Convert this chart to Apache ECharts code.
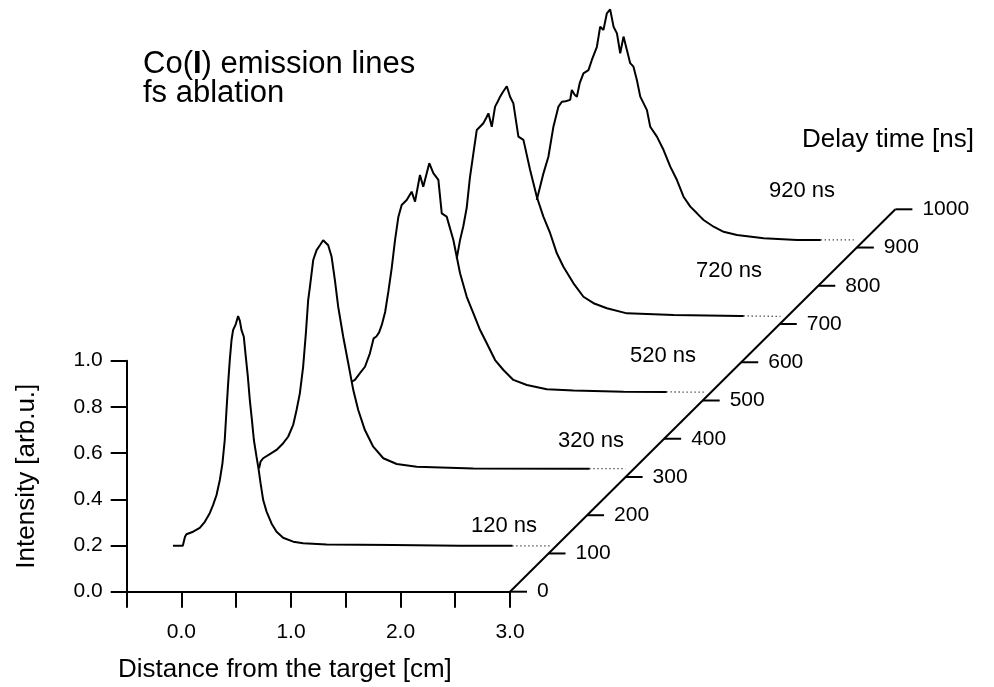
<!DOCTYPE html>
<html>
<head>
<meta charset="utf-8">
<title>Co(I) emission lines - fs ablation</title>
<script src="https://cdn.jsdelivr.net/npm/echarts@6.0.0/dist/echarts.min.js"></script>
<style>
  html, body { margin: 0; padding: 0; background: #fff; }
  #chart { width: 994px; height: 687px; }
</style>
</head>
<body>
<div id="chart"></div>
<script>
// delay times of the measured profiles [ns]
var delays = [120, 320, 520, 720, 920];

// spatial profiles, [distance from target (cm), normalised intensity]
var prof120 = [[-0.50,0.0],[-0.41,0.0],[-0.39,0.039],[-0.377,0.05],[-0.316,0.061],[-0.255,0.078],[-0.209,0.104],
  [-0.164,0.141],[-0.133,0.177],[-0.102,0.22],[-0.072,0.285],[-0.048,0.357],[-0.027,0.458],[-0.011,0.588],
  [0.004,0.703],[0.019,0.804],[0.035,0.891],[0.049,0.934],[0.074,0.96],[0.095,0.995],[0.111,0.974],
  [0.126,0.934],[0.147,0.905],[0.165,0.819],[0.184,0.732],[0.202,0.631],[0.221,0.545],[0.239,0.458],
  [0.263,0.386],[0.281,0.335],[0.300,0.271],[0.324,0.198],[0.355,0.148],[0.40,0.097],[0.446,0.061],
  [0.506,0.035],[0.598,0.018],[0.689,0.011],[0.903,0.006],[1.512,0.003],[2.12,0.0],[2.6,0.0],[2.95,0.0]];
var prof320 = [[-0.417,0.004],[-0.404,0.033],[-0.38,0.048],[-0.319,0.066],[-0.258,0.084],[-0.197,0.113],
  [-0.152,0.141],[-0.106,0.192],[-0.075,0.257],[-0.045,0.329],[-0.015,0.444],[0.01,0.589],[0.031,0.733],
  [0.047,0.79],[0.077,0.906],[0.108,0.949],[0.138,0.97],[0.168,0.992],[0.184,0.998],[0.214,0.97],
  [0.245,0.92],[0.275,0.819],[0.305,0.704],[0.351,0.574],[0.397,0.459],[0.443,0.343],[0.488,0.257],
  [0.549,0.17],[0.625,0.098],[0.717,0.048],[0.839,0.023],[1.022,0.011],[1.539,0.004],[2.45,0.003],
  [2.6,0.003],[2.93,0.003]];
var prof520 = [[-0.278,0.048],[-0.246,0.056],[-0.2,0.085],[-0.154,0.113],[-0.109,0.171],[-0.075,0.236],
  [-0.05,0.244],[-0.025,0.262],[0.0,0.295],[0.03,0.35],[0.06,0.44],[0.09,0.54],[0.12,0.66],[0.15,0.76],
  [0.181,0.813],[0.227,0.835],[0.272,0.871],[0.303,0.828],[0.348,0.943],[0.378,0.892],[0.433,0.994],
  [0.47,0.951],[0.516,0.922],[0.547,0.777],[0.592,0.763],[0.653,0.662],[0.714,0.518],[0.775,0.416],
  [0.835,0.345],[0.897,0.272],[0.958,0.215],[1.034,0.142],[1.11,0.099],[1.201,0.056],[1.324,0.034],
  [1.506,0.016],[1.75,0.01],[2.207,0.005],[2.6,0.004],[2.94,0.003]];
var prof720 = [[-0.02,0.25],[0.01,0.33],[0.04,0.39],[0.071,0.47],[0.1,0.6],[0.132,0.706],[0.163,0.807],
  [0.19,0.82],[0.223,0.836],[0.25,0.86],[0.269,0.879],[0.3,0.821],[0.33,0.908],[0.355,0.93],[0.376,0.951],
  [0.4,0.97],[0.437,0.996],[0.467,0.951],[0.497,0.922],[0.543,0.778],[0.589,0.764],[0.65,0.634],
  [0.711,0.518],[0.771,0.432],[0.833,0.36],[0.894,0.273],[0.954,0.215],[1.046,0.143],[1.137,0.085],
  [1.229,0.057],[1.351,0.035],[1.534,0.013],[1.96,0.006],[2.569,0.002],[2.6,0.002],[2.935,0.0]];
var prof920 = [[0.007,0.173],[0.068,0.288],[0.113,0.36],[0.159,0.49],[0.205,0.577],[0.236,0.598],[0.27,0.6],
  [0.312,0.606],[0.327,0.649],[0.35,0.63],[0.373,0.62],[0.4,0.68],[0.433,0.721],[0.479,0.735],[0.51,0.779],
  [0.556,0.836],[0.586,0.923],[0.616,0.909],[0.647,0.981],[0.677,0.998],[0.708,0.923],[0.739,0.894],
  [0.769,0.808],[0.799,0.88],[0.83,0.822],[0.86,0.765],[0.89,0.75],[0.921,0.692],[0.952,0.62],[1.013,0.562],
  [1.043,0.49],[1.104,0.447],[1.165,0.389],[1.226,0.317],[1.287,0.259],[1.347,0.187],[1.409,0.144],
  [1.47,0.115],[1.53,0.086],[1.622,0.057],[1.713,0.035],[1.835,0.021],[2.079,0.007],[2.384,0.0],
  [2.6,0.0],[2.9,0.0]];

// tick values
var xTicks = [-0.5, 0.0, 0.5, 1.0, 1.5, 2.0, 2.5, 3.0];
var yTicks = [0.0, 0.2, 0.4, 0.6, 0.8, 1.0];
var depthTicks = [0, 100, 200, 300, 400, 500, 600, 700, 800, 900, 1000];

var profiles = { 120: prof120, 320: prof320, 520: prof520, 720: prof720, 920: prof920 };

// waterfall offsets (per ns of delay), in front-axis units
var cmPerNs = 0.003519;
var intPerNs = 0.0016554;
var tailFrom = 2.6;   // the noisy end of every trace is drawn dotted
var FONT = '"Liberation Sans", Arial, Helvetica, sans-serif';

// front axes box in px, and the wider hidden box the traces are drawn in
var G = { left: 126.7, bottom: 591.7, pxPerCm: 383.3 / 3.5, pxPerInt: 231 };
var hidXMax = 7.0, hidYMax = 2.55;

var myChart = echarts.init(document.getElementById('chart'));

var series = [];
// back traces first so the front ones hide them (hidden line removal)
delays.slice().reverse().forEach(function (t) {
    var dx = t * cmPerNs, dy = t * intPerNs;
    var main = [], tail = [];
    profiles[t].forEach(function (p) {
        var q = [p[0] + dx, p[1] + dy];
        if (p[0] <= tailFrom) main.push(q);
        if (p[0] >= tailFrom) tail.push(q);
    });
    series.push({
        name: t + ' ns',
        type: 'line',
        xAxisIndex: 1, yAxisIndex: 1,
        data: main,
        symbol: 'none',
        clip: false,
        silent: true,
        lineStyle: { color: '#000', width: 2 },
        areaStyle: { color: '#fff', opacity: 1, origin: dy },
        z: 3
    });
    series.push({
        type: 'line',
        xAxisIndex: 1, yAxisIndex: 1,
        data: tail,
        symbol: 'none',
        clip: false,
        silent: true,
        lineStyle: { color: '#000', width: 1.3, type: [1, 3] },
        z: 3
    });
});

// depth (delay time) axis
var dMax = depthTicks[depthTicks.length - 1];
series.push({
    type: 'line',
    xAxisIndex: 1, yAxisIndex: 1,
    data: [[3.0, 0], [3.0 + dMax * cmPerNs, dMax * intPerNs]],
    symbol: 'none',
    clip: false,
    silent: true,
    lineStyle: { color: '#000', width: 2 },
    z: 5
});
series.push({
    type: 'custom',
    coordinateSystem: 'cartesian2d',
    xAxisIndex: 1, yAxisIndex: 1,
    clip: false,
    silent: true,
    z: 5,
    data: depthTicks.map(function (t) { return [3.0 + t * cmPerNs, t * intPerNs, t]; }),
    renderItem: function (params, api) {
        var p = api.coord([api.value(0), api.value(1)]);
        return {
            type: 'group',
            children: [
                { type: 'line', shape: { x1: p[0], y1: p[1], x2: p[0] + 17, y2: p[1] },
                  style: { stroke: '#000', lineWidth: 2 } },
                { type: 'text', x: p[0] + 27, y: p[1],
                  style: { text: String(api.value(2)), fontSize: 21, fontFamily: FONT,
                           fill: '#000', align: 'left', verticalAlign: 'middle' } }
            ]
        };
    }
});

function txt(x, y, s, size, align) {
    return { type: 'text', x: x, y: y, z: 10, silent: true,
             style: { text: s, fontSize: size, fontFamily: FONT, fill: '#000',
                      align: align || 'left', verticalAlign: 'middle',
                      rich: { b: { fontSize: size, fontFamily: FONT, fontWeight: 'bold', fill: '#000' } } } };
}

var option = {
    animation: false,
    backgroundColor: '#fff',
    grid: [
        { left: G.left, top: G.bottom - G.pxPerInt, width: 3.5 * G.pxPerCm, height: G.pxPerInt },
        { left: G.left, top: G.bottom - hidYMax * G.pxPerInt,
          width: (hidXMax + 0.5) * G.pxPerCm, height: hidYMax * G.pxPerInt }
    ],
    xAxis: [{
        type: 'value', gridIndex: 0, min: xTicks[0], max: xTicks[xTicks.length - 1], interval: 0.5,
        axisLine: { onZero: false, lineStyle: { color: '#000', width: 2 } },
        axisTick: { length: 16, lineStyle: { color: '#000', width: 2 } },
        axisLabel: {
            margin: 30, color: '#000', fontSize: 21, fontFamily: FONT,
            formatter: function (v) { return Math.abs(v - Math.round(v)) < 1e-9 ? v.toFixed(1) : ''; }
        },
        splitLine: { show: false }
    }, {
        type: 'value', gridIndex: 1, min: -0.5, max: hidXMax, show: false
    }],
    yAxis: [{
        type: 'value', gridIndex: 0, min: yTicks[0], max: yTicks[yTicks.length - 1], interval: 0.2,
        name: 'Intensity [arb.u.]', nameLocation: 'middle', nameGap: 87,
        nameTextStyle: { color: '#000', fontSize: 26, fontFamily: FONT },
        axisLine: { onZero: false, lineStyle: { color: '#000', width: 2 } },
        axisTick: { length: 16, lineStyle: { color: '#000', width: 2 } },
        axisLabel: {
            margin: 24, color: '#000', fontSize: 21, fontFamily: FONT,
            formatter: function (v) { return v.toFixed(1); }
        },
        splitLine: { show: false }
    }, {
        type: 'value', gridIndex: 1, min: 0, max: hidYMax, show: false
    }],
    graphic: [
        txt(143, 64, 'Co({b|I}) emission lines', 31),
        txt(143, 93, 'fs ablation', 31),
        txt(802, 140, 'Delay time [ns]', 26),
        txt(118, 670, 'Distance from the target [cm]', 26),
        txt(504, 526, '120 ns', 22, 'center'),
        txt(591, 441, '320 ns', 22, 'center'),
        txt(663, 356, '520 ns', 22, 'center'),
        txt(729, 271, '720 ns', 22, 'center'),
        txt(802, 191, '920 ns', 22, 'center')
    ],
    series: series
};

myChart.setOption(option);
</script>
</body>
</html>
